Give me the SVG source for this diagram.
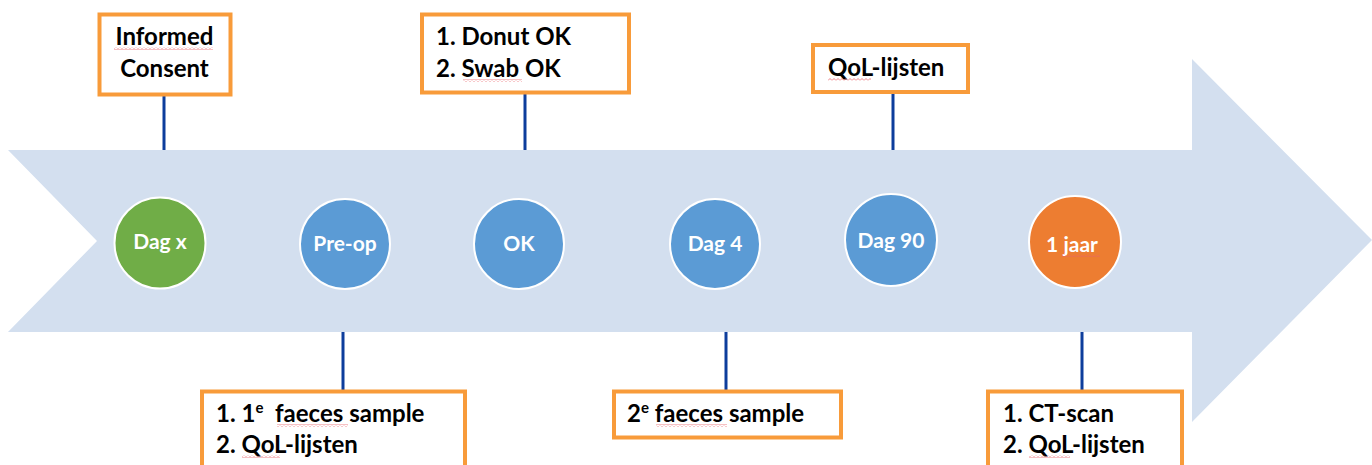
<svg xmlns="http://www.w3.org/2000/svg" width="1372" height="465" viewBox="0 0 1372 465">
<style>
.box{fill:#fff;stroke:#F89B3A;stroke-width:4}
.lbl{font-family:Lato,"Liberation Sans",sans-serif;font-weight:bold;font-size:24px;fill:#000}
.ctr{text-anchor:middle}
.ct{font-family:Lato,"Liberation Sans",sans-serif;font-weight:bold;font-size:21px;fill:#fff;text-anchor:middle}
.circ{stroke:#fff;stroke-width:2}
.conn line{stroke:#0D3D9C;stroke-width:3}
.sq{fill:url(#squig)}
</style>
<defs>
<pattern id="squig" patternUnits="userSpaceOnUse" width="4" height="3">
<path d="M0,2.5 L2,0.5 L4,2.5" fill="none" stroke="#E8626A" stroke-width="0.8"/>
</pattern>
</defs>
<rect width="1372" height="465" fill="#fff"/>
<polygon id="arrow" points="8,150 1192,150 1192,59 1372,240 1192,422 1192,332 8,332 97,241" fill="#D3DFEF"/>
<g id="connectors" class="conn">
<line x1="164" y1="95" x2="164" y2="150"/>
<line x1="525" y1="93" x2="525" y2="150"/>
<line x1="893" y1="93" x2="893" y2="150"/>
<line x1="343" y1="332" x2="343" y2="390"/>
<line x1="726" y1="332" x2="726" y2="390"/>
<line x1="1082" y1="332" x2="1082" y2="390"/>
</g>
<g id="c-dagx"><circle class="circ" cx="160" cy="243" r="45.5" fill="#70AD47"/><text class="ct" x="160" y="249">Dag x</text></g>
<g id="c-preop"><circle class="circ" cx="345" cy="244" r="45" fill="#5B9BD5"/><text class="ct" x="345" y="251">Pre-op</text></g>
<g id="c-ok"><circle class="circ" cx="519" cy="244" r="45" fill="#5B9BD5"/><text class="ct" x="519" y="251">OK</text></g>
<g id="c-dag4"><circle class="circ" cx="715" cy="244" r="45" fill="#5B9BD5"/><text class="ct" x="715" y="251">Dag 4</text></g>
<g id="c-dag90"><circle class="circ" cx="891" cy="240" r="46" fill="#5B9BD5"/><text class="ct" x="891" y="248">Dag 90</text></g>
<g id="c-1jaar"><circle class="circ" cx="1075" cy="242" r="46" fill="#ED7D31"/><text class="ct" x="1072" y="252">1 jaar</text><rect class="sq" x="1062" y="254" width="38" height="3"/></g>
<g id="b-informed"><rect class="box" x="99.5" y="14.5" width="131" height="80"/><text class="lbl ctr" x="164.5" y="45">Informed</text><text class="lbl ctr" x="164.5" y="77">Consent</text><rect class="sq" x="114" y="47" width="99" height="3"/></g>
<g id="b-donut"><rect class="box" x="422" y="14.5" width="207" height="78"/><text class="lbl" x="436" y="45">1. Donut OK</text><text class="lbl" x="436" y="77">2. Swab OK</text><rect class="sq" x="463" y="79" width="59" height="3"/></g>
<g id="b-qol"><rect class="box" x="813" y="45" width="155" height="47"/><text class="lbl" x="828" y="76">QoL-lijsten</text><rect class="sq" x="828" y="78" width="43" height="3"/></g>
<g id="b-faeces1"><rect class="box" x="202" y="391.5" width="263" height="80"/><text class="lbl" x="216" y="422" xml:space="preserve">1. 1<tspan font-size="15" dy="-9">e</tspan><tspan dy="9">  faeces sample</tspan></text><text class="lbl" x="216" y="453">2. QoL-lijsten</text><rect class="sq" x="277" y="424" width="71" height="3"/><rect class="sq" x="242" y="455" width="38" height="3"/></g>
<g id="b-faeces2"><rect class="box" x="614" y="391.5" width="227" height="46"/><text class="lbl" x="627" y="422">2<tspan font-size="15" dy="-9">e</tspan><tspan dy="9"> faeces sample</tspan></text><rect class="sq" x="656" y="424" width="71" height="3"/></g>
<g id="b-ct"><rect class="box" x="988" y="391.5" width="194" height="80"/><text class="lbl" x="1003" y="422">1. CT-scan</text><text class="lbl" x="1003" y="453">2. QoL-lijsten</text><rect class="sq" x="1029" y="455" width="41" height="3"/></g>
</svg>
